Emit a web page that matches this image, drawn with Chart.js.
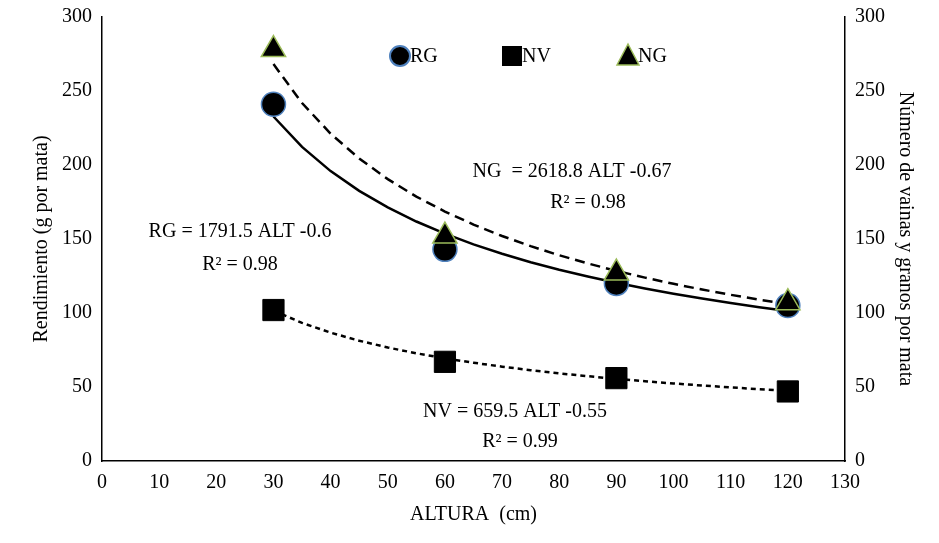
<!DOCTYPE html>
<html><head><meta charset="utf-8">
<script src="https://cdn.jsdelivr.net/npm/chart.js@4/dist/chart.umd.min.js"></script>
<style>html,body{margin:0;background:#fff}#wrap{width:939px;height:543px}</style>
</head><body><div id="wrap"><canvas id="c"></canvas></div>
<script>
const alturas = [30, 60, 90, 120];
const rg = [241, 143, 120, 105];
const nv = [102, 67, 56, 47];
const ng = [278, 152, 127, 107];
// printed trend equations: y = a * ALT^b
const rgFit = [1791.5, -0.6];
const nvFit = [659.5, -0.55];
const ngFit = [2618.8, -0.67];
const fitX = [30, 35, 40, 45, 50, 55, 60, 65, 70, 75, 80, 85, 90, 95, 100, 105, 110, 115, 120];

function curve(f) { return fitX.map(x => ({ x: x, y: f[0] * Math.pow(x, f[1]) })); }
function pts(v) { return alturas.map((x, i) => ({ x: x, y: v[i] })); }

Chart.defaults.font.family = "'Liberation Serif', 'Times New Roman', serif";
Chart.defaults.font.size = 20;
Chart.defaults.color = "#000";

const labels = [
  ["RG = 1791.5 ALT -0.6", 240, 232], ["R² = 0.98", 240, 265],
  ["NG  = 2618.8 ALT -0.67", 572, 172], ["R² = 0.98", 588, 203],
  ["NV = 659.5 ALT -0.55", 515, 412], ["R² = 0.99", 520, 442]
];

const textPlugin = {
  id: "texts",
  afterDraw(chart) {
    const ctx = chart.ctx;
    ctx.save();
    ctx.font = "20px 'Liberation Serif', serif";
    ctx.fillStyle = "#000";
    ctx.textAlign = "center";
    ctx.textBaseline = "middle";
    labels.forEach(l => ctx.fillText(l[0], l[1], l[2]));
    // legend
    const items = [["RG", 400, "circle"], ["NV", 512, "rect"], ["NG", 628, "tri"]];
    ctx.textAlign = "left";
    items.forEach(it => {
      const x = it[1], y = 56;
      ctx.fillStyle = "#000";
      ctx.beginPath();
      if (it[2] === "circle") { ctx.arc(x, y, 10, 0, Math.PI * 2); ctx.fill(); ctx.strokeStyle = "#4f81bd"; ctx.lineWidth = 2; ctx.stroke(); }
      else if (it[2] === "rect") { ctx.fillRect(x - 10, y - 10, 20, 20); }
      else { ctx.moveTo(x, y - 12); ctx.lineTo(x + 11, y + 9); ctx.lineTo(x - 11, y + 9); ctx.closePath(); ctx.fill(); ctx.strokeStyle = "#9bbb59"; ctx.lineWidth = 1.5; ctx.stroke(); }
      ctx.fillStyle = "#000";
      ctx.fillText(it[0], x + 10, y + 1);
    });
    ctx.restore();
  }
};

const axisTicks = { color: "#000", font: { size: 20 }, padding: 4 };
const gridOff = { display: false, drawTicks: true, tickLength: 6, tickColor: "#000" };

new Chart(document.getElementById("c"), {
  type: "scatter",
  data: {
    datasets: [
      { data: pts(ng), pointStyle: "triangle", pointRadius: 14, backgroundColor: "#000", borderColor: "#9bbb59", borderWidth: 1.5 },
      { data: pts(nv), pointStyle: "rect", pointRadius: 15, backgroundColor: "#000", borderColor: "#000", borderWidth: 1 },
      { data: pts(rg), pointStyle: "circle", pointRadius: 12, backgroundColor: "#000", borderColor: "#4f81bd", borderWidth: 1.5 },
      { data: curve(rgFit), showLine: true, borderColor: "#000", borderWidth: 2.5, pointRadius: 0 },
      { data: curve(ngFit), showLine: true, borderColor: "#000", borderWidth: 2.5, borderDash: [10, 6], pointRadius: 0 },
      { data: curve(nvFit), showLine: true, borderColor: "#000", borderWidth: 2.5, borderDash: [5, 4], pointRadius: 0 }
    ]
  },
  options: {
    responsive: true, maintainAspectRatio: false, animation: false,
    layout: { padding: { left: 26, right: 18, top: 17, bottom: 12 } },
    plugins: { legend: { display: false }, tooltip: { enabled: false } },
    scales: {
      x: {
        type: "linear", min: 0, max: 130,
        ticks: Object.assign({ stepSize: 10 }, axisTicks),
        grid: gridOff, border: { color: "#000", width: 1.5 },
        title: { display: true, text: "ALTURA  (cm)", font: { size: 20 }, color: "#000" }
      },
      y: {
        min: 0, max: 300, position: "left",
        ticks: Object.assign({ stepSize: 50 }, axisTicks),
        grid: gridOff, border: { color: "#000", width: 1.5 },
        title: { display: true, text: "Rendimiento (g por mata)", font: { size: 20 }, color: "#000" }
      },
      y2: {
        min: 0, max: 300, position: "right",
        ticks: Object.assign({ stepSize: 50 }, axisTicks),
        grid: gridOff, border: { color: "#000", width: 1.5 },
        title: { display: true, text: "Número de vainas y granos por mata", font: { size: 20 }, color: "#000" }
      }
    }
  },
  plugins: [textPlugin]
});
</script></body></html>
